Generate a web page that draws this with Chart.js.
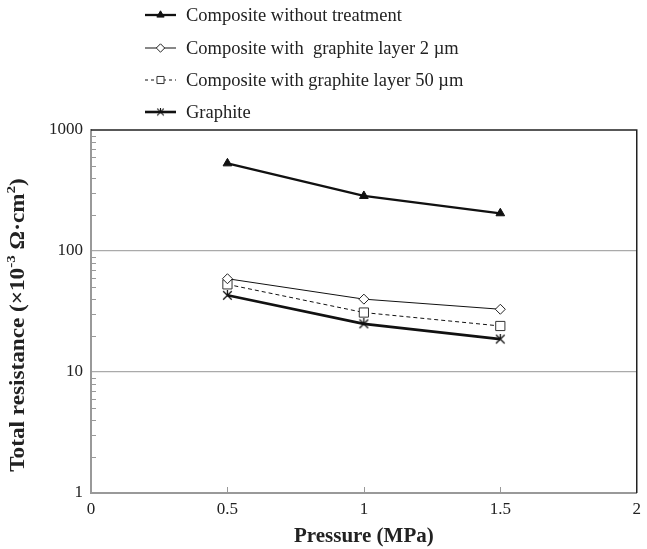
<!DOCTYPE html>
<html><head><meta charset="utf-8">
<script src="https://cdn.jsdelivr.net/npm/chart.js@4.4.0/dist/chart.umd.min.js"></script>
<style>html,body{margin:0;padding:0;background:#fff}canvas{display:block}</style>
</head>
<body>
<canvas id="c" width="647" height="549"></canvas>
<script>
// ---- data ----
const pressures = [0.5, 1, 1.5];
const withoutTreatment = [530, 285, 205];
const layer2um = [59, 40, 33];
const layer50um = [53, 31, 24];
const graphite = [43, 25, 18.7];
const seriesNames = ['Composite without treatment', 'Composite with  graphite layer 2 \u00b5m', 'Composite with graphite layer 50 \u00b5m', 'Graphite'];
const yTickValues = [1, 10, 100, 1000];
const xTickValues = [0, 0.5, 1, 1.5, 2];
const xTitle = 'Pressure (MPa)';

const SERIF = '"Liberation Serif", "Times New Roman", serif';

function makeStar(size, lw) {
  const c = document.createElement('canvas');
  c.width = size; c.height = size;
  const g = c.getContext('2d');
  g.strokeStyle = '#111'; g.lineWidth = lw;
  const m = 1.2;
  g.beginPath();
  g.moveTo(m, m); g.lineTo(size - m, size - m);
  g.moveTo(size - m, m); g.lineTo(m, size - m);
  g.moveTo(size / 2, 0); g.lineTo(size / 2, size / 2);
  g.stroke();
  return c;
}
const starImg = makeStar(11, 1.3);
const starLegend = makeStar(9, 1.1);

const styles = [
  {pointStyle: 'triangle', radius: 5, fill: '#111', stroke: '#111', bw: 1, lw: 2.3, dash: []},
  {pointStyle: 'rectRot', radius: 5, fill: '#fff', stroke: '#222', bw: 1, lw: 1, dash: []},
  {pointStyle: 'rect', radius: 6.5, fill: '#fff', stroke: '#333', bw: 1, lw: 1, dash: [4, 3]},
  {pointStyle: starImg, radius: 5, fill: '#111', stroke: '#111', bw: 1, lw: 2.6, dash: []}
];
const seriesValues = [withoutTreatment, layer2um, layer50um, graphite];

const datasets = seriesValues.map((vals, i) => ({
  label: seriesNames[i],
  data: pressures.map((p, j) => ({x: p, y: vals[j]})),
  borderColor: '#111',
  borderWidth: styles[i].lw,
  borderDash: styles[i].dash,
  pointStyle: styles[i].pointStyle,
  pointRadius: styles[i].radius,
  pointBackgroundColor: styles[i].fill,
  pointBorderColor: styles[i].stroke,
  pointBorderWidth: styles[i].bw,
  tension: 0,
  fill: false,
  clip: false
}));

const decor = {
  id: 'decor',
  afterDraw(chart) {
    const ctx = chart.ctx;
    const a = chart.chartArea;
    const xs = chart.scales.x, ys = chart.scales.y;
    ctx.save();
    // top & right frame
    ctx.strokeStyle = '#222'; ctx.lineWidth = 1.5;
    ctx.beginPath();
    ctx.moveTo(a.left, a.top); ctx.lineTo(a.right, a.top); ctx.lineTo(a.right, a.bottom);
    ctx.stroke();
    // y minor ticks (inward)
    ctx.strokeStyle = '#999'; ctx.lineWidth = 1;
    ctx.beginPath();
    for (let d = 1; d < 1000; d *= 10) {
      for (let k = 2; k <= 9; k++) {
        const py = Math.round(ys.getPixelForValue(d * k)) + 0.5;
        ctx.moveTo(a.left, py); ctx.lineTo(a.left + 5, py);
      }
    }
    // x inward ticks
    xTickValues.slice(1, -1).forEach(v => {
      const px = Math.round(xs.getPixelForValue(v)) + 0.5;
      ctx.moveTo(px, a.bottom); ctx.lineTo(px, a.bottom - 6);
    });
    ctx.stroke();

    // y-axis title with superscripts
    ctx.translate(19, 325);
    ctx.rotate(-Math.PI / 2);
    ctx.scale(1.16, 1);
    const big = 'bold 20px ' + SERIF, small = 'bold 13px ' + SERIF;
    const parts = [
      ['Total resistance (\u00d710', big, 0],
      ['-3', small, -7],
      [' \u03a9\u00b7cm', big, 0],
      ['2', small, -7],
      [')', big, 0]
    ];
    let total = 0;
    parts.forEach(p => { ctx.font = p[1]; total += ctx.measureText(p[0]).width; });
    let x0 = -total / 2;
    ctx.fillStyle = '#222'; ctx.textBaseline = 'middle'; ctx.textAlign = 'left';
    parts.forEach(p => { ctx.font = p[1]; ctx.fillText(p[0], x0, p[2]); x0 += ctx.measureText(p[0]).width; });
    ctx.restore();

    // legend
    ctx.save();
    const rowsY = [15, 48, 80, 112];
    seriesNames.forEach((name, i) => {
      const y = rowsY[i];
      const s = styles[i];
      ctx.strokeStyle = '#111';
      ctx.lineWidth = s.lw;
      ctx.setLineDash(s.dash.length ? [3, 3] : []);
      ctx.beginPath(); ctx.moveTo(145, y); ctx.lineTo(176, y); ctx.stroke();
      ctx.setLineDash([]);
      ctx.fillStyle = s.fill; ctx.strokeStyle = s.stroke; ctx.lineWidth = 1;
      const ps = i === 3 ? starLegend : s.pointStyle;
      Chart.helpers.drawPoint(ctx, {pointStyle: ps, radius: i === 2 ? 5 : 4.2, borderWidth: 1, rotation: 0}, 160.5, y);
      ctx.fillStyle = '#222';
      ctx.font = '18.5px ' + SERIF;
      ctx.textBaseline = 'middle'; ctx.textAlign = 'left';
      ctx.fillText(name, 186, y + 1);
    });
    ctx.restore();
  }
};

new Chart(document.getElementById('c'), {
  type: 'line',
  data: {datasets},
  options: {
    responsive: false,
    animation: false,
    devicePixelRatio: 1,
    layout: {padding: {top: 130, right: 6, left: 0, bottom: 0}},
    plugins: {legend: {display: false}, tooltip: {enabled: false}},
    scales: {
      x: {
        type: 'linear', min: 0, max: 2,
        afterBuildTicks: s => { s.ticks = xTickValues.map(v => ({value: v})); },
        afterFit: s => { s.height = 56; },
        grid: {drawOnChartArea: false, drawTicks: false},
        border: {color: '#999', width: 2},
        ticks: {padding: 6, color: '#222', font: {family: SERIF, size: 17}, maxRotation: 0,
          callback: v => String(v)},
        title: {display: true, text: xTitle, color: '#222', font: {family: SERIF, size: 21, weight: 'bold'}, padding: {top: 5, bottom: 0}}
      },
      y: {
        type: 'logarithmic', min: 1, max: 1000,
        afterBuildTicks: s => { s.ticks = yTickValues.map(v => ({value: v})); },
        afterFit: s => { s.width = 91; },
        grid: {drawTicks: false, lineWidth: 1.2,
          color: c => (c.tick && (c.tick.value === 10 || c.tick.value === 100)) ? '#aaa' : 'rgba(0,0,0,0)'},
        border: {color: '#999', width: 2},
        ticks: {padding: 8, color: '#222', font: {family: SERIF, size: 17},
          callback: v => String(v)}
      }
    }
  },
  plugins: [decor]
});
</script>
</body></html>
